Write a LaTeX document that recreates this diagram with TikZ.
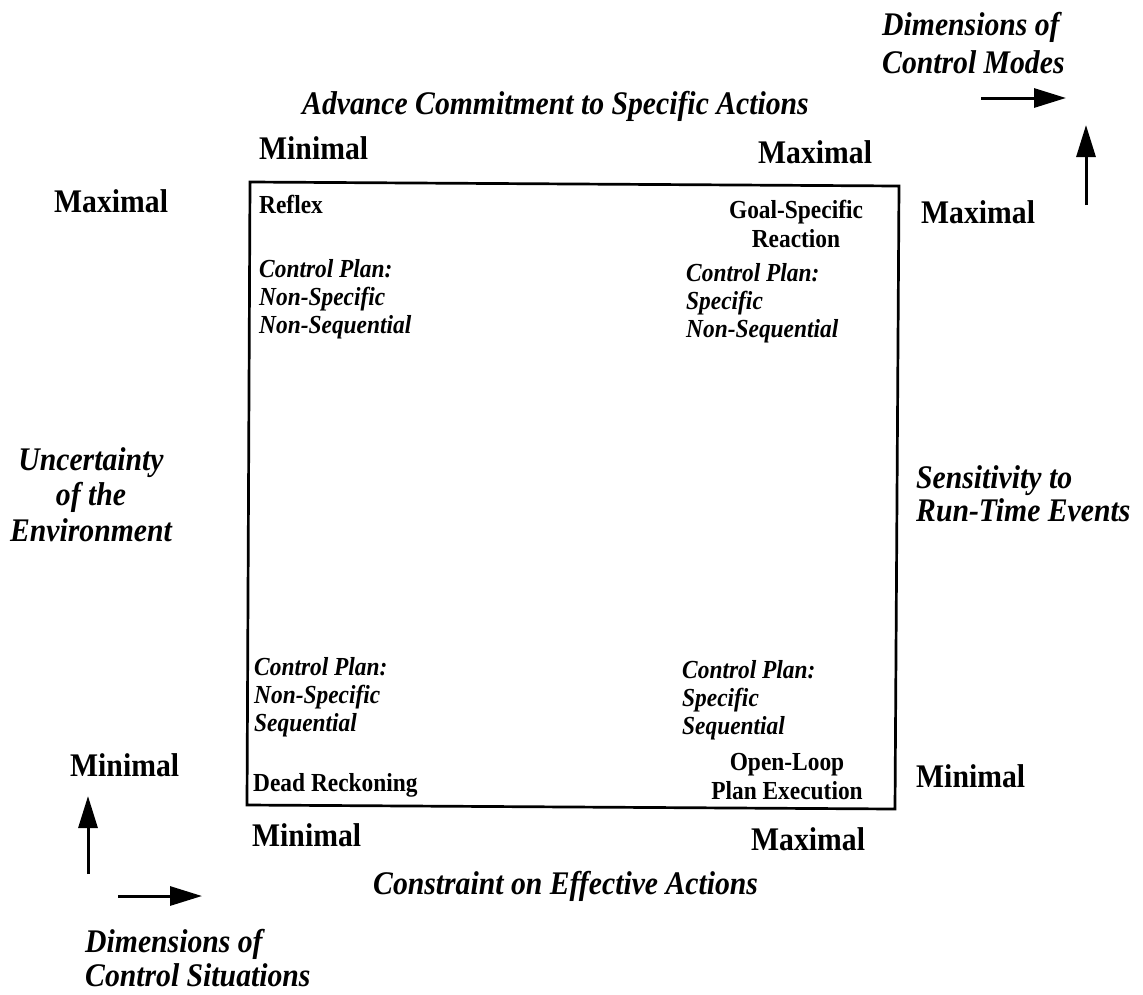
\documentclass[tikz,border=0pt]{standalone}
\usepackage{fontspec}
\setmainfont{Liberation Serif}[FakeStretch=0.9]
\usetikzlibrary{arrows.meta}
\begin{document}
\begin{tikzpicture}[x=1pt,y=-1pt,
  big/.style={inner sep=0pt,font=\fontsize{33}{35}\selectfont\bfseries},
  bigit/.style={inner sep=0pt,align=left,font=\fontsize{33}{35}\selectfont\bfseries\itshape},
  sm/.style={inner sep=0pt,align=left,font=\fontsize{26}{28.5}\selectfont\bfseries},
  smit/.style={inner sep=0pt,align=left,font=\fontsize{26}{28}\selectfont\bfseries\itshape},
  dimarrow/.style={line width=3pt,-{Triangle[length=32pt,width=19pt]}}]
\useasboundingbox (0,0) rectangle (1143,994);
% frame (slightly skewed like the scan)
\coordinate (tl) at (250,182); \coordinate (tr) at (899,186);
\coordinate (br) at (895,809); \coordinate (bl) at (247,805);
\draw[line width=2.7pt,line join=miter] (tl) -- (tr) -- (br) -- (bl) -- cycle;
% top-right dimension label and arrows
\node[bigit,font=\fontsize{33}{38}\selectfont\bfseries\itshape,anchor=base west] (dmodes) at (882,73) {Dimensions of\\Control Modes};
\coordinate (a1s) at (981,98); \coordinate (a1e) at (1066,98);
\draw[dimarrow] (a1s) -- (a1e);
\coordinate (a2s) at (1086,205); \coordinate (a2e) at (1086,125);
\draw[dimarrow] (a2s) -- (a2e);
% top axis
\node[bigit,anchor=base west] (adv) at (302,114) {Advance Commitment to Specific Actions};
\node[big,anchor=base west] (tmin) at (259,159) {Minimal};
\node[big,anchor=base west] (tmax) at (758,163) {Maximal};
% side extremes
\node[big,anchor=base west] (lmax) at (54,212) {Maximal};
\node[big,anchor=base west] (rmax) at (921,223) {Maximal};
\node[big,anchor=base west] (lmin) at (70,776) {Minimal};
\node[big,anchor=base west] (rmin) at (916,787) {Minimal};
% side axis labels
\node[bigit,align=center,font=\fontsize{33}{35.5}\selectfont\bfseries\itshape,anchor=base] (unc) at (91,541) {Uncertainty\\of the\\Environment};
\node[bigit,font=\fontsize{33}{33}\selectfont\bfseries\itshape,anchor=base west] (sens) at (916,521) {Sensitivity to\\Run-Time Events};
% inside box
\node[sm,anchor=base west] (reflex) at (259,213) {Reflex};
\node[sm,align=center,font=\fontsize{26}{29}\selectfont\bfseries,anchor=base] (goal) at (796,247) {Goal-Specific\\Reaction};
\node[smit,anchor=base west] (cp1) at (259,333) {Control Plan:\\Non-Specific\\Non-Sequential};
\node[smit,anchor=base west] (cp2) at (686,337) {Control Plan:\\Specific\\Non-Sequential};
\node[smit,anchor=base west] (cp3) at (254,731) {Control Plan:\\Non-Specific\\Sequential};
\node[smit,anchor=base west] (cp4) at (682,734) {Control Plan:\\Specific\\Sequential};
\node[sm,anchor=base west] (dead) at (253,791) {Dead Reckoning};
\node[sm,align=center,anchor=base] (open) at (787,799) {Open-Loop\\Plan Execution};
% bottom axis
\node[big,anchor=base west] (bmin) at (252,846) {Minimal};
\node[big,anchor=base west] (bmax) at (751,850) {Maximal};
\node[bigit,anchor=base west] (cons) at (373,894) {Constraint on Effective Actions};
% bottom-left dimension label and arrows
\coordinate (a3s) at (88,874); \coordinate (a3e) at (88,796);
\draw[dimarrow] (a3s) -- (a3e);
\coordinate (a4s) at (118,896); \coordinate (a4e) at (202,896);
\draw[dimarrow] (a4s) -- (a4e);
\node[bigit,font=\fontsize{33}{34}\selectfont\bfseries\itshape,anchor=base west] (dsit) at (85,986) {Dimensions of\\Control Situations};
\end{tikzpicture}
\end{document}
